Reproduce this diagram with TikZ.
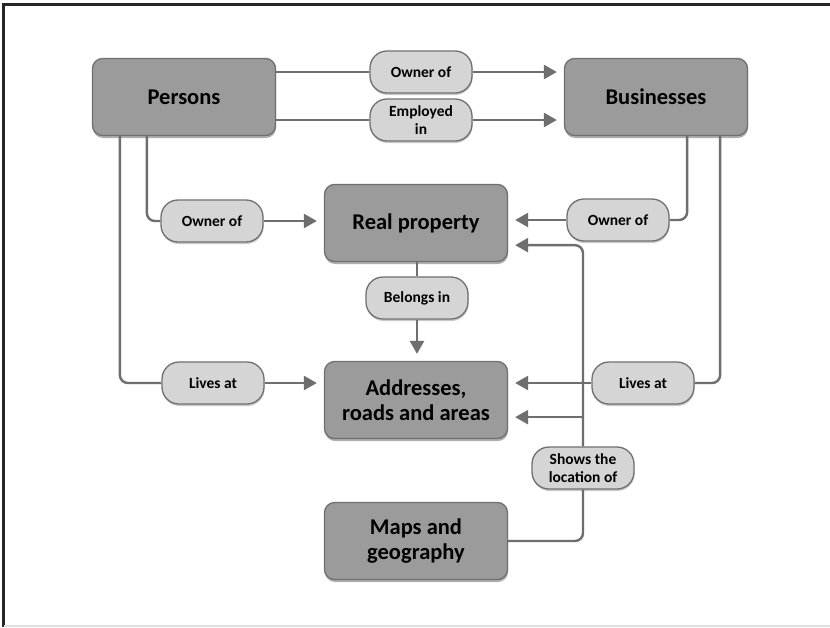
\documentclass[tikz,border=0pt]{standalone}
\usepackage{fontspec}
\setmainfont{Carlito}
\usetikzlibrary{arrows.meta,shadows}
\definecolor{boxfill}{HTML}{9B9B9B}
\definecolor{pillfill}{HTML}{D5D5D5}
\definecolor{edgegray}{HTML}{707070}
\definecolor{linegray}{HTML}{6E6E6E}
\begin{document}
\begin{tikzpicture}[x=1pt,y=-1pt,
  entity/.style={draw=edgegray, line width=1.3pt, fill=boxfill, rounded corners=10pt,
    minimum width=183pt, minimum height=77pt, inner sep=0pt, align=center,
    font=\bfseries\fontsize{22.5}{25.5}\selectfont,
    drop shadow={shadow xshift=0.5pt, shadow yshift=-2.5pt, opacity=0.45, fill=black!70}},
  relation/.style={draw=edgegray, line width=1.3pt, fill=pillfill, rounded corners=17pt,
    minimum width=102pt, minimum height=42pt, inner sep=0pt, align=center,
    font=\bfseries\fontsize{15.5}{18}\selectfont,
    drop shadow={shadow xshift=0.5pt, shadow yshift=-2pt, opacity=0.35, fill=black!60}},
  link/.style={draw=linegray, line width=2.4pt, rounded corners=8pt},
  arrow/.style={link, -{Triangle[length=13pt,width=14pt]}, shorten >=7pt}
]
\useasboundingbox (0,0) rectangle (830,627);
\fill[white] (0,0) rectangle (830,627);
% page frame
\draw[black!85, line width=3pt] (3.5,627) -- (3.5,4) -- (830,4);
\draw[black!12, line width=1.5pt] (3.5,626) -- (830,626);

% entities
\node[entity] (persons)    at (184,97)  {Persons};
\node[entity] (businesses) at (656,97)  {Businesses};
\node[entity] (realprop)   at (416,223) {Real property};
\node[entity] (addr)       at (416,400) {Addresses,\\roads and areas};
\node[entity] (maps)       at (416,541) {Maps and\\geography};

% relations
\node[relation] (ownerTop)   at (421,72)  {Owner of};
\node[relation] (employed)   at (421,120) {Employed\\in};
\node[relation] (ownerLeft)  at (212,221) {Owner of};
\node[relation] (ownerRight) at (618,220) {Owner of};
\node[relation] (belongs)    at (417,298) {Belongs in};
\node[relation] (livesLeft)  at (213,383) {Lives at};
\node[relation] (livesRight) at (643,383) {Lives at};
\node[relation] (shows)      at (583,468) {Shows the\\location of};

% Persons -> Businesses
\draw[link]  (persons.east |- ownerTop.west) -- (ownerTop.west);
\draw[arrow] (ownerTop.east) -- (businesses.west |- ownerTop.east);
\draw[link]  (persons.east |- employed.west) -- (employed.west);
\draw[arrow] (employed.east) -- (businesses.west |- employed.east);

% Persons -> Real property / Addresses
\draw[link]  ([xshift=55pt]persons.south west) |- (ownerLeft.west);
\draw[arrow] (ownerLeft.east) -- (realprop.west |- ownerLeft.east);
\draw[link]  ([xshift=28pt]persons.south west) |- (livesLeft.west);
\draw[arrow] (livesLeft.east) -- (addr.west |- livesLeft.east);

% Businesses -> Real property / Addresses
\draw[link]  ([xshift=-61pt]businesses.south east) |- (ownerRight.east);
\draw[arrow] (ownerRight.west) -- (realprop.east |- ownerRight.west);
\draw[link]  ([xshift=-28pt]businesses.south east) |- (livesRight.east);
\draw[arrow] (livesRight.west) -- (addr.east |- livesRight.west);

% Real property -> Addresses
\draw[link]  (belongs.north |- realprop.south) -- (belongs.north);
\draw[arrow] (belongs.south) -- (belongs.south |- addr.north);

% Maps -> Real property and Addresses
\coordinate (rpIn)   at ([yshift=17pt]realprop.south east);
\coordinate (addrIn) at ([yshift=22pt]addr.south east);
\draw[link]  (maps.east) -| (shows.south);
\draw[arrow] (shows.north) |- (rpIn);
\draw[arrow] (shows.north |- addrIn) -- (addrIn);
\end{tikzpicture}
\end{document}
